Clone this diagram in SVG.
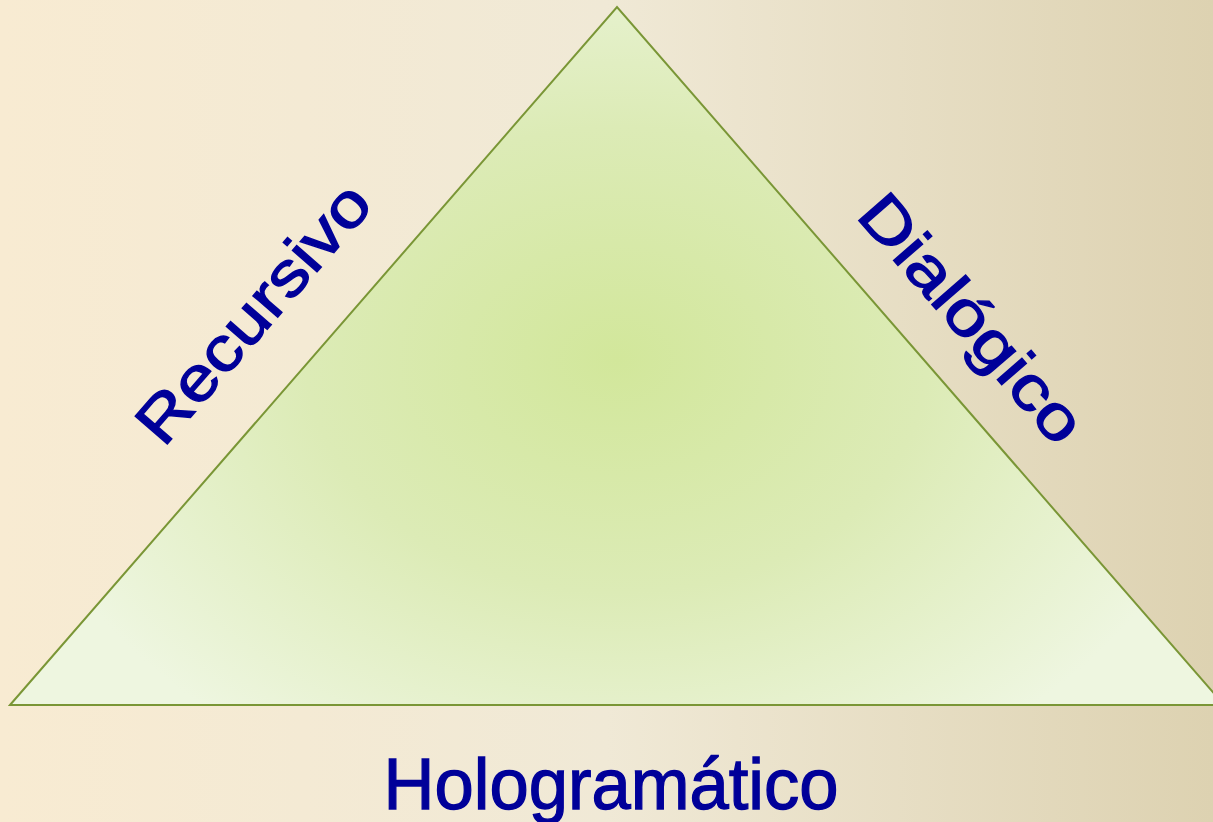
<svg xmlns="http://www.w3.org/2000/svg" width="1213" height="822" viewBox="0 0 1213 822">
<defs>
<linearGradient id="bg" x1="0" y1="0" x2="1" y2="0">
<stop offset="0" stop-color="#f8ebd2"/>
<stop offset="0.5" stop-color="#f0e9d6"/>
<stop offset="1" stop-color="#ddd2b1"/>
</linearGradient>
<radialGradient id="tri" gradientUnits="userSpaceOnUse" cx="617" cy="360" r="620" fx="617" fy="360" gradientTransform="translate(617 360) scale(1 0.75) translate(-617 -360)">
<stop offset="0" stop-color="#d2e79b"/>
<stop offset="0.5" stop-color="#dcebb6"/>
<stop offset="1" stop-color="#eef6e0"/>
</radialGradient>
<style>
.lbl{font-family:"Liberation Sans",Arial,sans-serif;fill:#000099;stroke:#000099;stroke-width:1.3px;}
</style>
</defs>
<rect width="1213" height="822" fill="url(#bg)"/>
<g id="triangle">
<polygon points="10,705 617,7 1224,705" fill="url(#tri)" stroke="#7a9636" stroke-width="2"/>
</g>
<g id="recursivo">
<text class="lbl" x="0" y="0" font-size="62" text-anchor="middle" dominant-baseline="central" textLength="322" lengthAdjust="spacingAndGlyphs" transform="translate(253 313) rotate(-49)">Recursivo</text>
</g>
<g id="dialogico">
<text class="lbl" x="0" y="0" font-size="62" text-anchor="middle" dominant-baseline="central" textLength="308" lengthAdjust="spacingAndGlyphs" transform="translate(972 318) rotate(49)">Dialógico</text>
</g>
<g id="holografico">
<text class="lbl" x="611" y="809" font-size="73" text-anchor="middle" textLength="455" lengthAdjust="spacingAndGlyphs">Hologramático</text>
</g>
</svg>
